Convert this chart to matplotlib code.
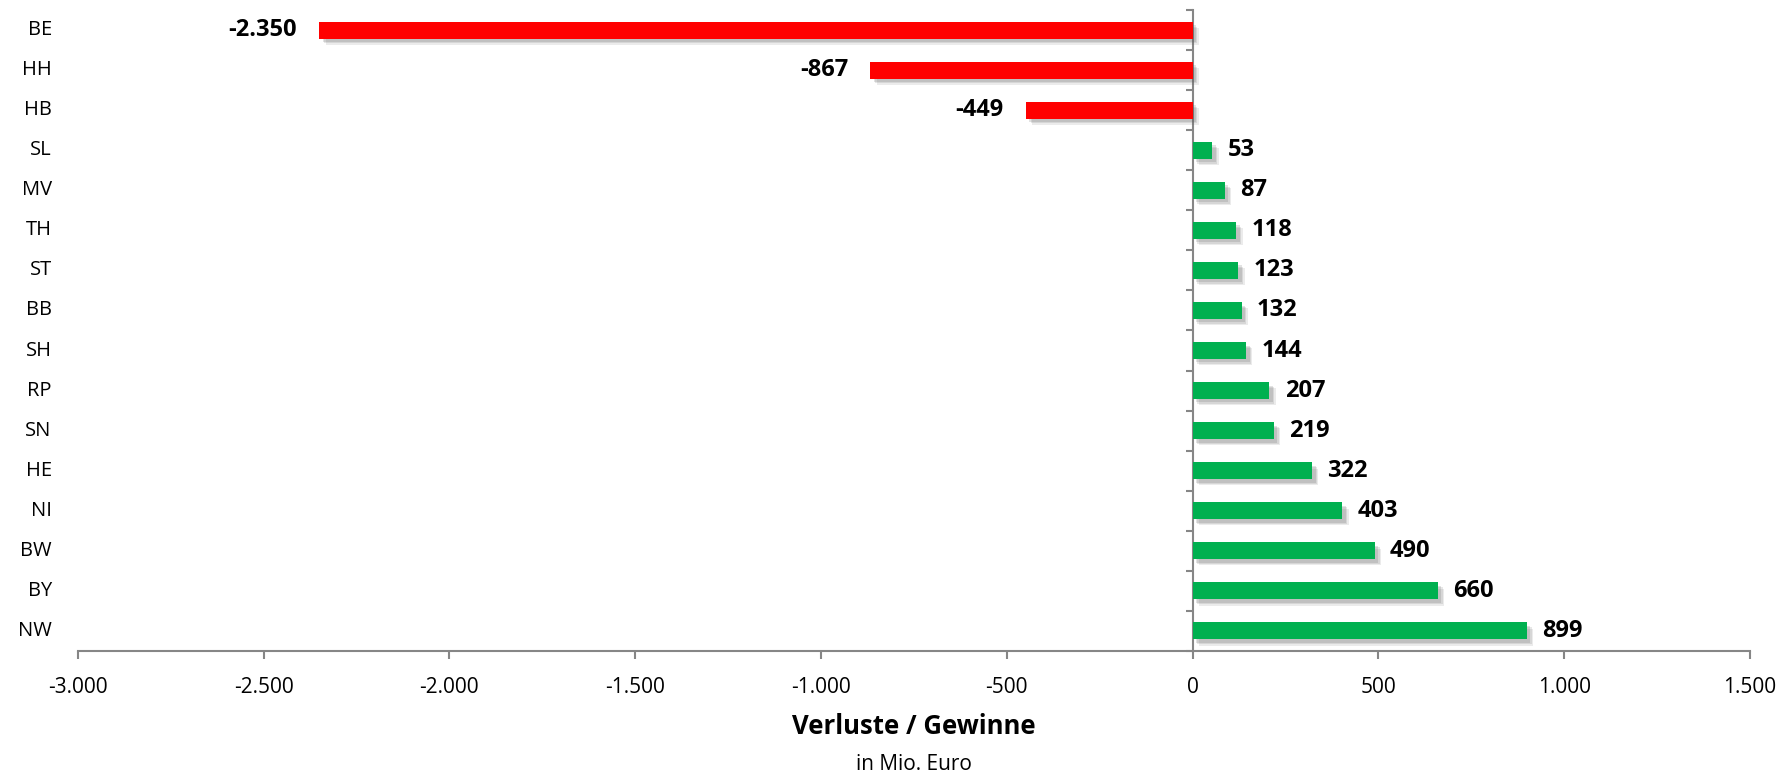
import matplotlib.pyplot as plt
import matplotlib.patheffects as pe
from matplotlib.ticker import FuncFormatter
from matplotlib.transforms import blended_transform_factory

plt.rcParams['font.family'] = ['Open Sans', 'DejaVu Sans']

# Data
laender = ['BE', 'HH', 'HB', 'SL', 'MV', 'TH', 'ST', 'BB', 'SH', 'RP', 'SN', 'HE', 'NI', 'BW', 'BY', 'NW']
werte = [-2350, -867, -449, 53, 87, 118, 123, 132, 144, 207, 219, 322, 403, 490, 660, 899]
x_ticks = [-3000, -2500, -2000, -1500, -1000, -500, 0, 500, 1000, 1500]


def fmt_de(v, pos=None):
    return f"{int(v):,}".replace(',', '.')


fig = plt.figure(figsize=(17.91, 7.74), dpi=100)
ax = fig.add_axes([0.0434, 0.159, 0.9337, 0.828])

colors = ['#FF0000' if v < 0 else '#00B050' for v in werte]
ypos = list(range(len(laender)))
bars = ax.barh(ypos, werte, height=0.42, color=colors, zorder=3)
# soft drop shadow
shadow = [pe.SimplePatchShadow(offset=(o, -o), shadow_rgbFace='#606060', alpha=a)
          for o, a in [(4.5, 0.12), (3.5, 0.15), (2.5, 0.18)]]
for b in bars:
    b.set_path_effects(shadow + [pe.Normal()])

ax.set_ylim(len(laender) - 0.5, -0.5)
ax.set_xlim(-3000, 1500)

# value labels
for y, v in zip(ypos, werte):
    if v < 0:
        ax.annotate(fmt_de(v), (v, y), xytext=(-16, 0), textcoords='offset points',
                    ha='right', va='center', fontsize=17, fontweight='bold')
    else:
        ax.annotate(fmt_de(v), (v, y), xytext=(11, 0), textcoords='offset points',
                    ha='left', va='center', fontsize=17, fontweight='bold')

# category labels at the far left
trans = blended_transform_factory(ax.transAxes, ax.transData)
for y, name in zip(ypos, laender):
    ax.text(-0.0155, y, name, transform=trans, ha='right', va='center', fontsize=14.5)

# axes styling
axis_col = '#868686'
for s in ['top', 'right']:
    ax.spines[s].set_visible(False)
ax.spines['left'].set_position(('data', 0))
ax.spines['left'].set_color(axis_col)
ax.spines['bottom'].set_color(axis_col)
ax.spines['left'].set_linewidth(1.5)
ax.spines['bottom'].set_linewidth(1.5)

ax.set_yticks([i - 0.5 for i in range(len(laender) + 1)])
ax.set_yticklabels([])
ax.tick_params(axis='y', direction='out', length=5, width=1.5, color=axis_col)

ax.set_xticks(x_ticks)
ax.xaxis.set_major_formatter(FuncFormatter(fmt_de))
ax.tick_params(axis='x', direction='out', length=6, width=1.5, color=axis_col,
               labelsize=15, pad=13)

xc = 0.0434 + 0.9337 / 2
fig.text(xc, 1 - 727 / 774, 'Verluste / Gewinne', ha='center', va='center',
         fontsize=18.5, fontweight='bold')
fig.text(xc, 1 - 764 / 774, 'in Mio. Euro', ha='center', va='center', fontsize=15)

fig.savefig('out.png', dpi=100)
